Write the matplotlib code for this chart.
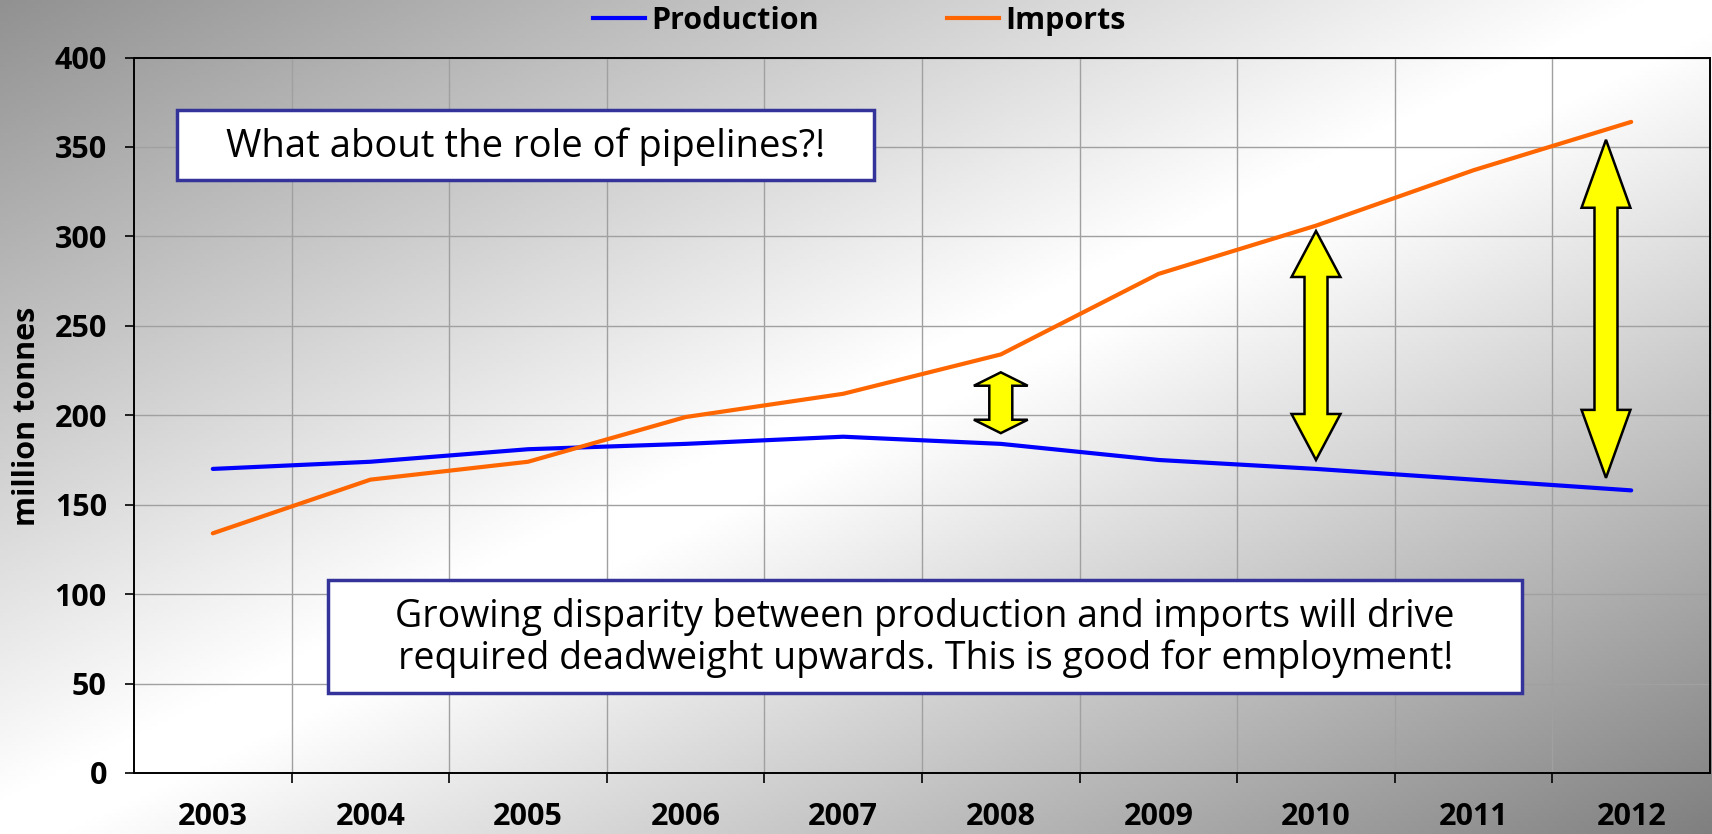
import numpy as np
import matplotlib
matplotlib.use('Agg')
import matplotlib.pyplot as plt
from matplotlib.patches import Rectangle, Polygon
from matplotlib.lines import Line2D

plt.rcParams['font.family'] = ['Open Sans', 'DejaVu Sans']

# data (million tonnes)
years = ['2003', '2004', '2005', '2006', '2007', '2008', '2009', '2010', '2011', '2012']
production = [170, 174, 181, 184, 188, 184, 175, 170, 164, 158]
imports = [134, 164, 174, 199, 212, 234, 279, 306, 337, 364]

# gap arrows: (x position in categories, bottom, top)
gap_x = [5.0, 7.0, 8.84]
gap_bottom = [190, 175, 165]
gap_top = [224, 303, 354]
gap_head = [7.5, 25.7, 38]  # head length in data units

fig = plt.figure(figsize=(17.12, 8.34), dpi=100)

# diagonal grey-white-grey background
bg = fig.add_axes([0, 0, 1, 1], zorder=-10)
u = np.linspace(0, 1, 400)
v = np.linspace(0, 1, 200)
U, V = np.meshgrid(u, v)
t = (U + V) / 2
shade = np.interp(t, [0, 0.48, 0.52, 1.0], [0.57, 1.0, 1.0, 0.50])
bg.imshow(np.dstack([shade] * 3), aspect='auto', extent=[0, 1, 0, 1], origin='upper')
bg.axis('off')

ax = fig.add_axes([134 / 1712, 61 / 834, 1576 / 1712, 715.5 / 834])
ax.set_facecolor('none')

x = np.arange(len(years))
ax.plot(x, production, color='#0000ff', lw=3, solid_capstyle='round', zorder=3, label='Production')
ax.plot(x, imports, color='#ff6600', lw=3, solid_capstyle='round', zorder=3, label='Imports')

ax.set_xlim(-0.5, len(years) - 0.5)
ax.set_ylim(0, 400)
ax.set_yticks(range(0, 401, 50))
ax.set_xticks(x)
ax.set_xticklabels(years)
ax.set_xticks(np.arange(0.5, len(years) - 1, 1), minor=True)
ax.tick_params(axis='x', which='major', length=0, pad=21, labelsize=22)
ax.tick_params(axis='x', which='minor', length=7, width=1.2, direction='out')
ax.tick_params(axis='y', length=6.5, width=1.2, pad=13, labelsize=22)
for lab in ax.get_xticklabels() + ax.get_yticklabels():
    lab.set_fontweight('bold')
ax.grid(True, axis='y', color='#a0a0a0', lw=1)
ax.grid(True, axis='x', which='minor', color='#a0a0a0', lw=1)
for s in ax.spines.values():
    s.set_color('black')
    s.set_linewidth(1.4)

# double headed block arrows
for xc, y0, y1, hl in zip(gap_x, gap_bottom, gap_top, gap_head):
    hw = 0.155 if hl > 10 else 0.171
    sw = 0.073
    pts = [(xc, y1), (xc + hw, y1 - hl), (xc + sw, y1 - hl), (xc + sw, y0 + hl),
           (xc + hw, y0 + hl), (xc, y0), (xc - hw, y0 + hl), (xc - sw, y0 + hl),
           (xc - sw, y1 - hl), (xc - hw, y1 - hl)]
    ax.add_patch(Polygon(pts, closed=True, facecolor='#ffff00', edgecolor='black',
                         lw=1.8, joinstyle='miter', zorder=4))

# text boxes
ax.add_patch(Rectangle((0.0273, 0.829), 0.442, 0.098, transform=ax.transAxes,
                       facecolor='white', edgecolor='#333399', lw=2.5, zorder=5))
ax.text(0.0273 + 0.221, 0.876, 'What about the role of pipelines?!', transform=ax.transAxes,
        ha='center', va='center', fontsize=27.5, zorder=6)
ax.add_patch(Rectangle((0.123, 0.112), 0.758, 0.158, transform=ax.transAxes,
                       facecolor='white', edgecolor='#333399', lw=2.5, zorder=5))
ax.text(0.502, 0.189, 'Growing disparity between production and imports will drive\n'
        'required deadweight upwards. This is good for employment!', transform=ax.transAxes,
        ha='center', va='center', fontsize=27, linespacing=1.1, zorder=6)

fig.text(27 / 1712, 0.501, 'million tonnes', rotation=90, ha='center', va='center',
         fontsize=22, fontweight='bold')

handles = [Line2D([], [], color='#0000ff', lw=3), Line2D([], [], color='#ff6600', lw=3)]
leg = fig.legend(handles, ['Production', 'Imports'], loc='center', bbox_to_anchor=(0.502, 0.975),
                 ncol=2, frameon=False, handlelength=1.7, handletextpad=0.2, columnspacing=4.2,
                 prop={'size': 22, 'weight': 'bold'})

fig.savefig('out.png', dpi=100)
